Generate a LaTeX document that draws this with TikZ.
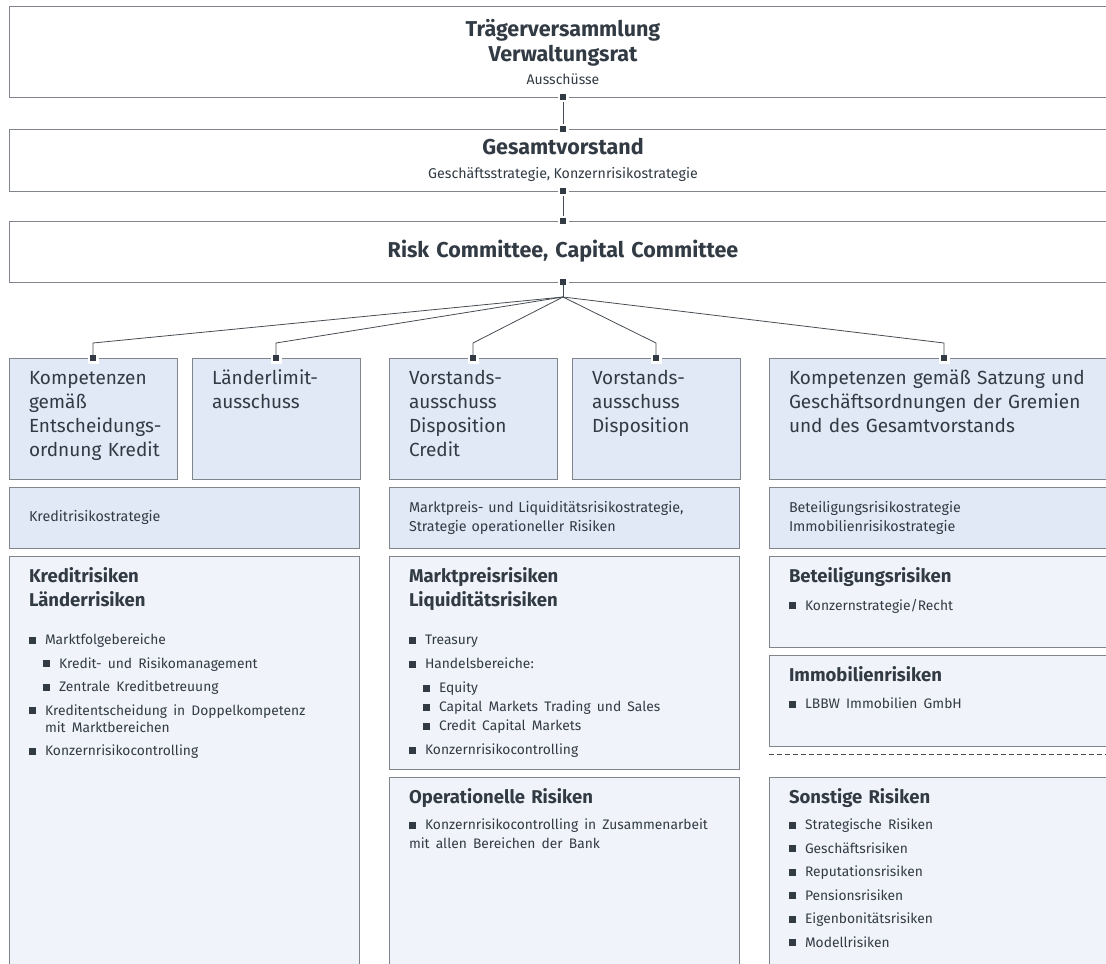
\documentclass[tikz,border=0pt]{standalone}
\usepackage{fontspec}
\setmainfont{Fira Sans}
\usetikzlibrary{positioning}

\definecolor{ink}{RGB}{50,59,68}
\definecolor{frame}{RGB}{128,133,139}
\definecolor{wire}{RGB}{70,76,83}
\definecolor{unitfill}{RGB}{225,233,246}
\definecolor{riskfill}{RGB}{240,243,249}

\newcommand{\toptext}[2]{\begin{minipage}[t][#1][t]{\linewidth}\raggedright\strut#2\end{minipage}}
\newcommand{\bul}{\rule[1pt]{7pt}{7pt}\hspace{9pt}}
\newcommand{\subbul}{\hspace*{14pt}\bul}
\newcommand{\itemfont}{\mdseries\fontsize{13.8}{17}\selectfont}

\begin{document}
\begin{tikzpicture}[x=1pt, y=-1pt,
    every node/.style={text=ink, outer sep=0pt},
    board/.style={draw=frame, fill=white, line width=0.9pt, minimum width=1108pt, text width=500pt, align=center, inner sep=0pt},
    unit/.style={draw=frame, fill=unitfill, line width=0.9pt, anchor=north west, text width=128pt, inner xsep=20pt, inner ysep=10pt, font=\fontsize{19}{24}\selectfont},
    strat/.style={draw=frame, fill=unitfill, line width=0.9pt, text width=310pt, inner xsep=20pt, minimum height=61pt, align=left, font=\fontsize{14.3}{19}\selectfont},
    field/.style={draw=frame, fill=riskfill, line width=0.9pt, text width=310pt, inner xsep=20pt, inner ysep=10pt, font=\bfseries\fontsize{18.5}{24}\selectfont},
    plug/.style={fill=ink, minimum size=6pt, inner sep=0pt, preaction={draw=white, line width=5pt}},
    link/.style={draw=wire, line width=0.8pt}
]
\useasboundingbox (0,0) rectangle (1106,964);
\clip (0,0) rectangle (1106,964);

% governance boards
\node[board, anchor=north west, minimum height=91pt] (traeger) at (9,6)
    {{\bfseries\fontsize{21.5}{25}\selectfont Trägerversammlung\\Verwaltungsrat\par}
     \vspace{7pt}{\fontsize{14}{16}\selectfont Ausschüsse\par}};
\node[board, below=32pt of traeger, minimum height=62pt] (vorstand)
    {{\bfseries\fontsize{21.5}{24}\selectfont Gesamtvorstand\par}
     \vspace{8pt}{\fontsize{14.2}{16}\selectfont Geschäftsstrategie, Konzernrisikostrategie\par}};
\node[board, below=30pt of vorstand, minimum height=61pt, font=\bfseries\fontsize{21.5}{24}\selectfont] (risk)
    {Risk Committee, Capital Committee};

% committees
\node[unit] (kompetenz) at (9,358) {\toptext{101pt}{Kompetenzen\\gemäß\\\mbox{Entscheidungs-}\\\mbox{ordnung Kredit}}};
\node[unit, right=15pt of kompetenz] (laender) {\toptext{101pt}{Länderlimit-\\ausschuss}};
\node[unit, right=29pt of laender] (vacredit) {\toptext{101pt}{Vorstands-\\ausschuss\\Disposition\\Credit}};
\node[unit, right=15pt of vacredit] (vadisp) {\toptext{101pt}{Vorstands-\\ausschuss\\Disposition}};
\node[unit, text width=310pt, right=29pt of vadisp] (satzung)
    {\toptext{101pt}{Kompetenzen gemäß Satzung und\\Geschäftsordnungen der Gremien\\und des Gesamtvorstands}};

% strategies
\node[strat, below right=8pt and 0pt of kompetenz.south west] (kreditstrat) {Kreditrisikostrategie};
\node[strat, below right=8pt and 0pt of vacredit.south west] (marktstrat)
    {Marktpreis- und Liquiditätsrisikostrategie,\\Strategie operationeller Risiken};
\node[strat, below right=8pt and 0pt of satzung.south west] (beteilstrat)
    {Beteiligungsrisikostrategie\\Immobilienrisikostrategie};

% risk types
\node[field, below right=8pt and 0pt of kreditstrat.south west] (kredit)
    {\toptext{399pt}{Kreditrisiken\\Länderrisiken\par\vspace{21pt}\itemfont
     \bul Marktfolgebereiche\\[6.5pt]
     \subbul Kredit- und Risikomanagement\\[6.5pt]
     \subbul Zentrale Kreditbetreuung\\[6.5pt]
     \bul Kreditentscheidung in Doppelkompetenz\\
     \hspace*{16pt}mit Marktbereichen\\[6.5pt]
     \bul Konzernrisikocontrolling}};
\node[field, below right=8pt and 0pt of marktstrat.south west] (markt)
    {\toptext{193pt}{Marktpreisrisiken\\Liquiditätsrisiken\par\vspace{21pt}\itemfont
     \bul Treasury\\[7pt]
     \bul Handelsbereiche:\\[7pt]
     \subbul Equity\\[2pt]
     \subbul Capital Markets Trading und Sales\\[2pt]
     \subbul Credit Capital Markets\\[7pt]
     \bul Konzernrisikocontrolling}};
\node[field, below right=8pt and 0pt of markt.south west] (oprisk)
    {\toptext{178pt}{Operationelle Risiken\par\vspace{7pt}\itemfont
     \bul Konzernrisikocontrolling in Zusammenarbeit\\[2pt]
     mit allen Bereichen der Bank}};
\node[field, below right=8pt and 0pt of beteilstrat.south west] (beteil)
    {\toptext{71pt}{Beteiligungsrisiken\par\vspace{8pt}\itemfont\bul Konzernstrategie/Recht}};
\node[field, below right=8pt and 0pt of beteil.south west] (immo)
    {\toptext{71pt}{Immobilienrisiken\par\vspace{8pt}\itemfont\bul LBBW Immobilien GmbH}};
\draw[draw=wire, dash pattern=on 5pt off 3pt, line width=1pt]
    ([yshift=-8.5pt]immo.south west) -- ([yshift=-8.5pt]immo.south east);
\node[field, below right=31pt and 0pt of immo.south west] (sonst)
    {\toptext{178pt}{Sonstige Risiken\par\vspace{7pt}\itemfont
     \bul Strategische Risiken\\[6.5pt]
     \bul Geschäftsrisiken\\[6.5pt]
     \bul Reputationsrisiken\\[6.5pt]
     \bul Pensionsrisiken\\[6.5pt]
     \bul Eigenbonitätsrisiken\\[6.5pt]
     \bul Modellrisiken}};

% connectors
\node[plug] (tplug) at (traeger.south) {};
\node[plug] (vplugtop) at (vorstand.north) {};
\node[plug] (vplugbot) at (vorstand.south) {};
\node[plug] (rplugtop) at (risk.north) {};
\node[plug] (rplugbot) at (risk.south) {};
\foreach \c in {kompetenz, laender, vacredit, vadisp, satzung}
    \node[plug] (\c plug) at (\c.north) {};

\draw[link, shorten <=2pt, shorten >=2pt] (tplug) -- (vplugtop);
\draw[link, shorten <=2pt, shorten >=2pt] (vplugbot) -- (rplugtop);
\coordinate (fan) at ([yshift=-15pt]rplugbot.center);
\draw[link] (rplugbot) -- (fan);
\foreach \c in {kompetenz, laender, vacredit, vadisp, satzung}
    \draw[link] (fan) -- ([yshift=15pt]\c plug.center) -- (\c plug);
\end{tikzpicture}
\end{document}
